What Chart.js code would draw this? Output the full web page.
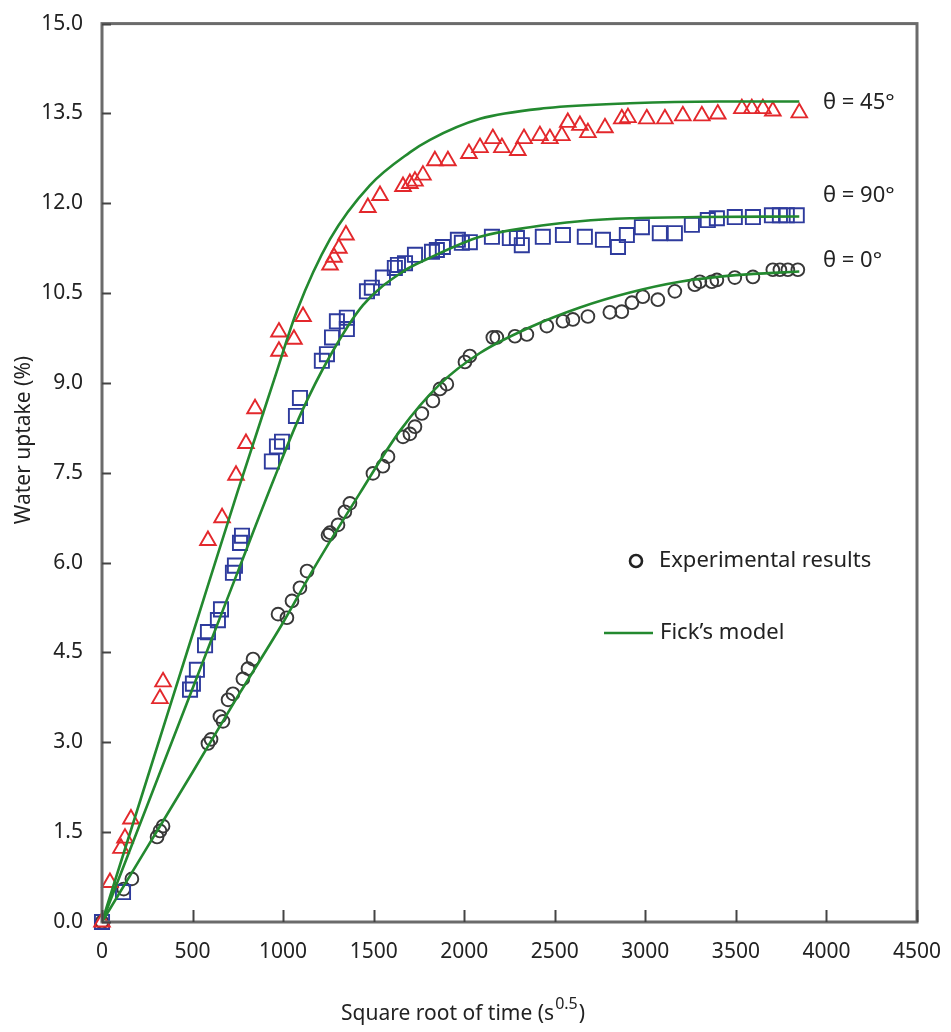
<!DOCTYPE html>
<html>
<head>
<meta charset="utf-8">
<script src="https://cdn.jsdelivr.net/npm/chart.js@4.4.1/dist/chart.umd.min.js"></script>
<style>
  html, body { margin: 0; padding: 0; background: #fff; }
</style>
</head>
<body>
<canvas id="chart" width="951" height="1032"></canvas>
<script>
// axis ticks
const xTickValues = [0, 500, 1000, 1500, 2000, 2500, 3000, 3500, 4000, 4500];
const yTickValues = [0, 1.5, 3, 4.5, 6, 7.5, 9, 10.5, 12, 13.5, 15];

// experimental points [sqrt(t), uptake %]
const exp45 = [[0,0],[44,0.66],[105,1.23],[127,1.4],[160,1.72],[320,3.73],[337,4.01],[585,6.37],[663,6.75],
  [740,7.46],[795,7.99],[845,8.57],[977,9.53],[977,9.85],[1060,9.73],[1110,10.11],[1259,10.97],[1281,11.1],
  [1308,11.25],[1347,11.47],[1468,11.93],[1535,12.13],[1662,12.28],[1700,12.33],[1728,12.37],[1772,12.47],
  [1838,12.71],[1910,12.71],[2026,12.83],[2087,12.93],[2158,13.08],[2208,12.93],[2296,12.88],[2330,13.08],
  [2418,13.13],[2473,13.08],[2539,13.13],[2572,13.35],[2639,13.3],[2683,13.18],[2777,13.26],[2870,13.41],
  [2904,13.43],[3008,13.41],[3108,13.41],[3207,13.46],[3312,13.46],[3400,13.49],[3533,13.58],[3588,13.58],
  [3649,13.58],[3704,13.54],[3850,13.51]];

const exp90 = [[0,0],[116,0.5],[486,3.88],[502,3.98],[524,4.21],[569,4.62],[585,4.84],[640,5.04],[657,5.22],
  [723,5.83],[734,5.95],[762,6.33],[773,6.45],[938,7.69],[966,7.94],[994,8.02],[1071,8.45],[1093,8.75],
  [1214,9.37],[1242,9.48],[1270,9.76],[1297,10.03],[1352,9.9],[1352,10.09],[1463,10.53],[1490,10.59],
  [1551,10.76],[1617,10.92],[1634,10.97],[1673,11.0],[1728,11.14],[1822,11.19],[1849,11.22],[1882,11.27],
  [1965,11.39],[1987,11.34],[2031,11.35],[2153,11.44],[2252,11.42],[2291,11.42],[2318,11.3],[2434,11.44],
  [2545,11.47],[2666,11.44],[2766,11.39],[2849,11.27],[2898,11.47],[2981,11.6],[3080,11.5],[3163,11.5],
  [3257,11.64],[3345,11.72],[3395,11.75],[3494,11.77],[3594,11.77],[3699,11.8],[3743,11.8],[3781,11.8],
  [3836,11.8]];

const exp0 = [[0,0],[120,0.55],[165,0.72],[304,1.42],[320,1.52],[337,1.6],[585,2.98],[602,3.05],[651,3.43],
  [668,3.35],[696,3.71],[723,3.81],[778,4.06],[806,4.23],[834,4.39],[972,5.14],[1021,5.08],[1049,5.36],
  [1093,5.58],[1132,5.86],[1248,6.46],[1259,6.5],[1303,6.63],[1341,6.85],[1369,6.99],[1496,7.49],[1551,7.61],
  [1579,7.77],[1662,8.1],[1700,8.15],[1728,8.27],[1766,8.49],[1827,8.7],[1866,8.9],[1904,8.98],[2004,9.35],
  [2031,9.45],[2158,9.76],[2180,9.76],[2280,9.78],[2346,9.81],[2456,9.95],[2545,10.03],[2600,10.06],
  [2683,10.11],[2804,10.18],[2870,10.19],[2926,10.34],[2986,10.44],[3069,10.39],[3163,10.53],[3273,10.64],
  [3301,10.69],[3367,10.69],[3395,10.72],[3494,10.76],[3594,10.77],[3704,10.89],[3743,10.89],[3787,10.89],
  [3842,10.89]];

// Fick's model curves
const model45 = [[0,0],[250,2.4],[500,4.8],[750,7.2],[950,9.05],[1076,10.2],[1259,11.4],[1479,12.3],
  [1700,12.85],[1811,13.06],[2087,13.41],[2456,13.59],[2915,13.67],[3400,13.7],[3850,13.7]];
const model90 = [[0,0],[250,1.95],[500,3.9],[750,5.85],[950,7.4],[1100,8.5],[1259,9.45],[1441,10.3],
  [1662,10.86],[1811,11.09],[2087,11.44],[2363,11.6],[2639,11.7],[2915,11.75],[3300,11.77],[3850,11.78]];
const model0 = [[0,0],[250,1.25],[500,2.5],[750,3.77],[1000,5.0],[1165,5.88],[1424,7.16],[1645,8.2],
  [1866,8.98],[2087,9.5],[2363,9.93],[2639,10.26],[2915,10.51],[3191,10.69],[3500,10.8],[3850,10.86]];

const seriesLabels = ['θ = 45°', 'θ = 90°', 'θ = 0°'];

const GREEN = '#23892f';
const RED = '#e3282c';
const BLUE = '#2e3b9d';
const BLACK = '#383838';
const FONT = '"Noto Sans", "Open Sans", sans-serif';

// where the plot box sits on the page
const AREA = { left: 102, right: 917, top: 17, bottom: 922 };

const toXY = arr => arr.map(p => ({ x: p[0], y: p[1] }));

function modelSet(label, arr) {
    return {
        label: label,
        data: toXY(arr),
        showLine: true,
        borderColor: GREEN,
        borderWidth: 2.6,
        pointRadius: 0,
        fill: false,
        cubicInterpolationMode: 'monotone',
        clip: false,
    };
}

function expSet(label, arr, color, style, radius) {
    return {
        label: label,
        data: toXY(arr),
        showLine: false,
        borderColor: color,
        backgroundColor: 'rgba(255,255,255,0)',
        pointStyle: style,
        pointRadius: radius,
        pointBorderWidth: 1.9,
        clip: false,
    };
}

// axes, inward ticks and annotation texts
const decorPlugin = {
    id: 'decor',
    afterDraw(chart) {
        const ctx = chart.ctx;
        const a = chart.chartArea;
        const xs = chart.scales.x, ys = chart.scales.y;
        ctx.save();
        ctx.strokeStyle = '#6b6b6b';
        ctx.lineWidth = 3;
        ctx.strokeRect(a.left, a.top, a.right - a.left, a.bottom - a.top);

        ctx.strokeStyle = '#444';
        ctx.lineWidth = 2;
        xTickValues.forEach(v => {
            const px = Math.round(xs.getPixelForValue(v)) + 0.5;
            ctx.beginPath();
            ctx.moveTo(px, a.bottom);
            ctx.lineTo(px, a.bottom - 12);
            ctx.stroke();
        });
        yTickValues.forEach(v => {
            const py = Math.round(ys.getPixelForValue(v)) + 0.5;
            ctx.beginPath();
            ctx.moveTo(a.left, py);
            ctx.lineTo(a.left + 9, py);
            ctx.stroke();
        });

        // series labels
        ctx.fillStyle = '#222';
        ctx.font = '22px ' + FONT;
        ctx.textBaseline = 'middle';
        ctx.textAlign = 'left';
        ctx.fillText(seriesLabels[0], 823, 103);
        ctx.fillText(seriesLabels[1], 823, 196);
        ctx.fillText(seriesLabels[2], 823, 261);

        // legend
        ctx.strokeStyle = '#222';
        ctx.lineWidth = 2.6;
        ctx.beginPath();
        ctx.arc(636, 561, 6, 0, Math.PI * 2);
        ctx.stroke();
        ctx.fillText('Experimental results', 659, 561);
        ctx.strokeStyle = GREEN;
        ctx.lineWidth = 2.6;
        ctx.beginPath();
        ctx.moveTo(604, 633);
        ctx.lineTo(653, 633);
        ctx.stroke();
        ctx.fillText('Fick’s model', 660, 633);

        // axis titles
        ctx.font = '21px ' + FONT;
        ctx.save();
        ctx.translate(24, 440);
        ctx.rotate(-Math.PI / 2);
        ctx.textAlign = 'center';
        ctx.fillText('Water uptake (%)', 0, 0);
        ctx.restore();

        ctx.textAlign = 'left';
        ctx.textBaseline = 'alphabetic';
        const main = 'Square root of time (s';
        const sup = '0.5';
        const close = ')';
        ctx.font = '21px ' + FONT;
        const w1 = ctx.measureText(main).width;
        const w3 = ctx.measureText(close).width;
        ctx.font = '16px ' + FONT;
        const w2 = ctx.measureText(sup).width;
        let x0 = 462 - (w1 + w2 + w3) / 2;
        const base = 1020;
        ctx.font = '21px ' + FONT;
        ctx.fillText(main, x0, base);
        ctx.font = '16px ' + FONT;
        ctx.fillText(sup, x0 + w1 + 1, base - 11);
        ctx.font = '21px ' + FONT;
        ctx.fillText(close, x0 + w1 + w2 + 2, base);
        ctx.restore();
    }
};

const chart = new Chart(document.getElementById('chart').getContext('2d'), {
    type: 'scatter',
    data: {
        datasets: [
            modelSet('Fick 45', model45),
            modelSet('Fick 90', model90),
            modelSet('Fick 0', model0),
            expSet(seriesLabels[0], exp45, RED, 'triangle', 9),
            expSet(seriesLabels[1], exp90, BLUE, 'rect', 10),
            expSet(seriesLabels[2], exp0, BLACK, 'circle', 6.4),
        ],
    },
    options: {
        responsive: false,
        animation: false,
        devicePixelRatio: 1,
        layout: { padding: { top: 17, right: 34, left: 0, bottom: 0 } },
        plugins: {
            legend: { display: false },
            tooltip: { enabled: false },
        },
        scales: {
            x: {
                type: 'linear',
                min: 0,
                max: 4500,
                afterBuildTicks: s => { s.ticks = xTickValues.map(v => ({ value: v })); },
                afterFit: s => { s.height = 110; },
                grid: { display: false },
                border: { display: false },
                ticks: {
                    padding: 9,
                    color: '#222',
                    font: { family: FONT, size: 21 },
                    maxRotation: 0,
                    autoSkip: false,
                    callback: v => String(v),
                },
            },
            y: {
                type: 'linear',
                min: 0,
                max: 15,
                afterBuildTicks: s => { s.ticks = yTickValues.map(v => ({ value: v })); },
                afterFit: s => { s.width = 102; },
                grid: { display: false },
                border: { display: false },
                ticks: {
                    padding: 11,
                    color: '#222',
                    font: { family: FONT, size: 21 },
                    autoSkip: false,
                    callback: v => v.toFixed(1),
                },
            },
        },
    },
    plugins: [decorPlugin],
});

// nudge the layout padding so the plot box lands where the reference has it
const pad = chart.config.options.layout.padding;
for (let i = 0; i < 4; i++) {
    const a = chart.chartArea;
    pad.top += AREA.top - a.top;
    pad.right += a.right - AREA.right;
    pad.bottom += a.bottom - AREA.bottom;
    pad.left += AREA.left - a.left;
    chart.options.layout.padding = Object.assign({}, pad);
    chart.update();
}
</script>
</body>
</html>
